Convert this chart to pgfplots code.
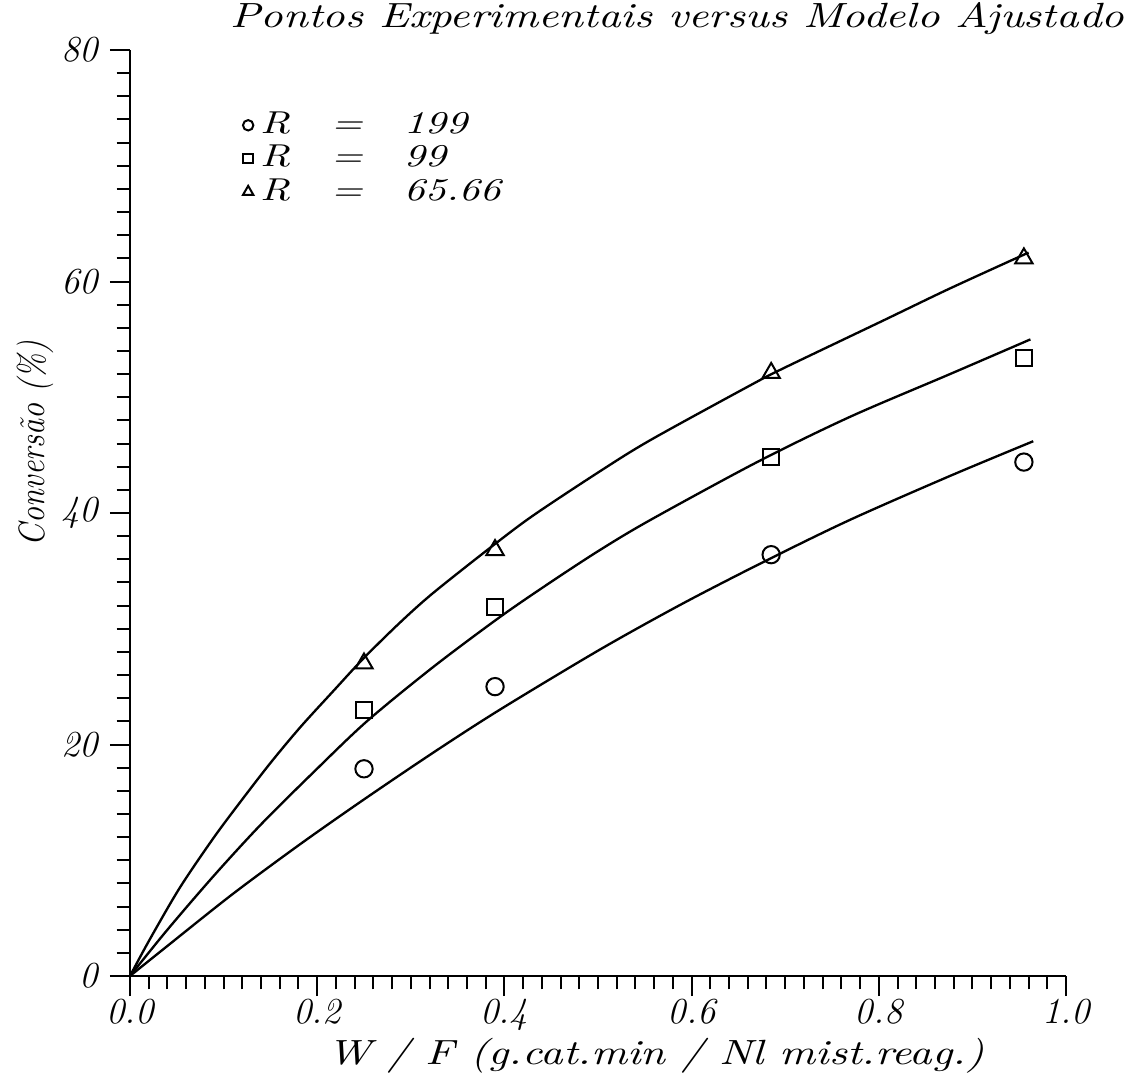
\documentclass[border=0pt]{standalone}
\usepackage{pgfplots}
\pgfplotsset{compat=1.18}
\usepackage{graphicx}
\newcommand{\lgent}[1]{\scalebox{1.3}[1]{\itshape R\quad=\quad #1}}
\begin{document}
\begin{tikzpicture}
\useasboundingbox (-39pt,-30.9pt) rectangle (300.6pt,292.8pt);
\begin{axis}[
  at={(0,0)}, anchor=origin,
  scale only axis, width=280.8pt, height=277.8pt,
  xmin=0, xmax=1, ymin=0, ymax=80,
  axis x line=bottom, axis y line=left,
  axis line style={-, line width=0.8pt},
  xtick={0,0.2,0.4,0.6,0.8,1}, ytick={0,20,40,60,80},
  minor x tick num=9, minor y tick num=9,
  tick align=outside,
  major tick length=6pt, minor tick length=4pt,
  tick style={line width=0.6pt, black},
  /pgf/number format/assume math mode=true,
  xticklabel style={font=\fontsize{11}{13}\selectfont\itshape, yshift=2.5pt, /pgf/number format/.cd, fixed, fixed zerofill, precision=1},
  yticklabel style={font=\fontsize{11}{13}\selectfont\itshape},
  clip=false,
  legend style={draw=none, fill=none, at={(0.12,0.941)}, anchor=north west,
    font=\fontsize{9.5}{10}\selectfont, row sep=-2pt, inner sep=0pt},
  legend cell align=left,
  legend image post style={scale=0.6},
]
% experimental points
\addplot[only marks, mark=o, mark size=2.6pt, mark options={line width=0.6pt}] coordinates {
(0.25,17.9) (0.39,25.0) (0.685,36.4) (0.955,44.4)};
\addlegendentry{\lgent{199}}
\addplot[only marks, mark=square, mark size=2.4pt, mark options={line width=0.6pt}] coordinates {
(0.25,23.0) (0.39,31.9) (0.685,44.8) (0.955,53.4)};
\addlegendentry{\lgent{99}}
\addplot[only marks, mark=triangle, mark size=3pt, mark options={line width=0.6pt}] coordinates {
(0.25,27.0) (0.39,36.8) (0.685,52.1) (0.955,62.0)};
\addlegendentry{\lgent{65.66}}
% fitted model curves
\addplot[forget plot, smooth, line width=0.7pt] coordinates {
(0,0) (0.04,2.6) (0.11,7.1) (0.182,11.4) (0.249,15.2) (0.324,19.3) (0.395,23.0) (0.502,28.2) (0.591,32.2) (0.68,35.9) (0.769,39.4) (0.876,43.2) (0.965,46.2)};
\addplot[forget plot, smooth, line width=0.7pt] coordinates {
(0,0) (0.04,4.0) (0.09,8.7) (0.14,13.1) (0.196,17.6) (0.253,22.0) (0.324,26.7) (0.395,31.0) (0.449,34.0) (0.502,36.8) (0.556,39.4) (0.67,44.4) (0.769,48.3) (0.876,52.0) (0.962,55.0)};
\addplot[forget plot, smooth, line width=0.7pt] coordinates {
(0,0) (0.02,3.0) (0.053,7.6) (0.089,11.9) (0.1175,15.0) (0.15,18.4) (0.182,21.5) (0.217,24.6) (0.249,27.4) (0.288,30.5) (0.324,33.1) (0.388,37.2) (0.431,39.8) (0.502,43.6) (0.556,46.3) (0.662,51.0) (0.698,52.5) (0.804,56.6) (0.876,59.4) (0.96,62.5)};
% titles
\node[font=\fontsize{10.5}{12}\selectfont\itshape] at (axis cs:0.585,82.7)
  {\resizebox{268pt}{\height}{Pontos Experimentais versus Modelo Ajustado}};
\node[font=\fontsize{10.5}{12}\selectfont\itshape] at (axis cs:0.562,-6.9)
  {\resizebox{197pt}{\height}{W / F (g.cat.min / Nl mist.reag.)}};
\node[font=\fontsize{11}{12}\selectfont\itshape, rotate=90] at (axis cs:-0.101,46)
  {\resizebox{61.5pt}{\height}{Conversão (\%)}};
\end{axis}
\end{tikzpicture}
\end{document}
